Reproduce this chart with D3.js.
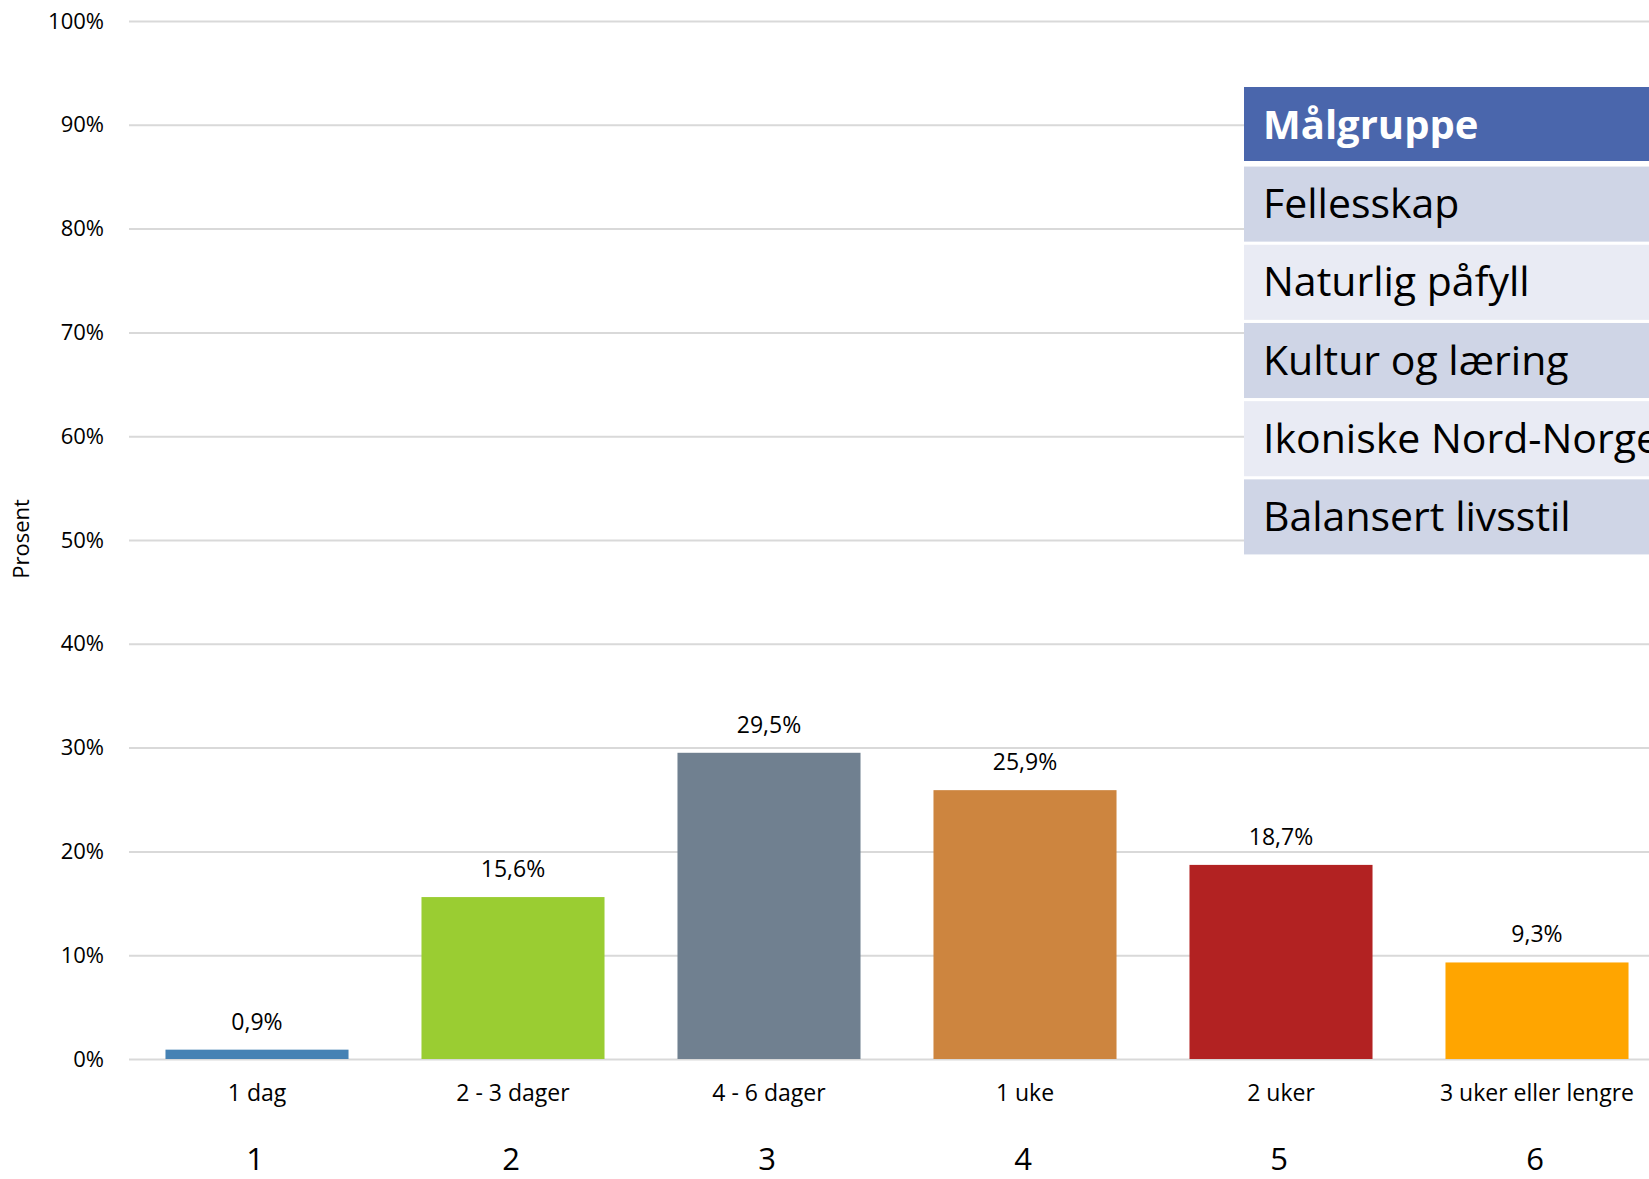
<!DOCTYPE html>
<html>
<head>
<meta charset="utf-8">
<script src="https://cdn.jsdelivr.net/npm/d3@7"></script>
<style>
  body { margin: 0; background: #fff; overflow: hidden; }
  text { font-family: "Open Sans", "DejaVu Sans", sans-serif; }
</style>
</head>
<body>
<script>
// data
let categories = ["1 dag", "2 - 3 dager", "4 - 6 dager", "1 uke", "2 uker", "3 uker eller lengre"];
let values = [0.9, 15.6, 29.5, 25.9, 18.7, 9.3];
let barColors = ["#4682b4", "#9acd32", "#708090", "#cd853f", "#b22222", "#ffa500"];
let groupNumbers = ["1", "2", "3", "4", "5", "6"];
let yTicks = [0, 10, 20, 30, 40, 50, 60, 70, 80, 90, 100];
let tableHeader = "Målgruppe";
let tableRows = ["Fellesskap", "Naturlig påfyll", "Kultur og læring", "Ikoniske Nord-Norge", "Balansert livsstil"];

let width = 1649, height = 1179;

let svg = d3.select("body").append("svg")
    .attr("width", width)
    .attr("height", height);

let x = d3.scaleBand()
    .domain(categories)
    .range([129, 1665])
    .paddingInner(0.285)
    .paddingOuter(0.1425);

let y = d3.scaleLinear()
    .domain([0, 100])
    .range([1059, 21]);

// gridlines + tick labels
let yAxis = d3.axisLeft(y)
    .tickValues(yTicks)
    .tickFormat(d => d + "%")
    .tickSize(-(width - 129))
    .tickPadding(25);

let gy = svg.append("g")
    .attr("transform", "translate(129,0)")
    .call(yAxis);
gy.select(".domain").remove();
gy.selectAll(".tick line").attr("stroke", "#d9d9d9").attr("stroke-width", 2);
gy.selectAll(".tick text")
    .attr("fill", "#000")
    .style("font-size", "22px");

// y title
svg.append("text")
    .attr("transform", "translate(29,539) rotate(-90)")
    .attr("text-anchor", "middle")
    .style("font-size", "22px")
    .text("Prosent");

// bars
svg.append("g").selectAll("rect")
    .data(values)
    .enter().append("rect")
    .attr("x", (d, i) => x(categories[i]))
    .attr("y", d => y(d))
    .attr("width", x.bandwidth())
    .attr("height", d => y(0) - y(d))
    .attr("fill", (d, i) => barColors[i]);

// value labels
svg.append("g").selectAll("text")
    .data(values)
    .enter().append("text")
    .attr("x", (d, i) => x(categories[i]) + x.bandwidth() / 2)
    .attr("y", d => y(d) - 20)
    .attr("text-anchor", "middle")
    .style("font-size", "23px")
    .text(d => d3.format(".1f")(d).replace(".", ",") + "%");

// category labels
svg.append("g").selectAll("text")
    .data(categories)
    .enter().append("text")
    .attr("x", d => x(d) + x.bandwidth() / 2)
    .attr("y", 1101)
    .attr("text-anchor", "middle")
    .style("font-size", "23px")
    .text(d => d);

// big group numbers under the axis
svg.append("g").selectAll("text")
    .data(groupNumbers)
    .enter().append("text")
    .attr("x", (d, i) => x(categories[i]) + x.bandwidth() / 2 - 2)
    .attr("y", 1170)
    .attr("text-anchor", "middle")
    .style("font-size", "31px")
    .text(d => d);

// target group table (cut off at the right edge)
let tbl = svg.append("g").attr("transform", "translate(1244,0)");
tbl.append("rect")
    .attr("x", 0).attr("y", 87)
    .attr("width", 500).attr("height", 74)
    .attr("fill", "#4a66ac");
tbl.append("text")
    .attr("x", 19).attr("y", 139)
    .attr("fill", "#fff")
    .style("font-size", "40px")
    .style("font-weight", "bold")
    .text(tableHeader);

let rowY = d3.scaleBand()
    .domain(tableRows)
    .range([165, 556])
    .paddingInner(0.04)
    .paddingOuter(0.02);

let rows = tbl.selectAll("g.row")
    .data(tableRows)
    .enter().append("g")
    .attr("class", "row");
rows.append("rect")
    .attr("x", 0)
    .attr("y", d => rowY(d))
    .attr("width", 500)
    .attr("height", rowY.bandwidth())
    .attr("fill", (d, i) => i % 2 === 0 ? "#cfd5e6" : "#e9ebf4");
rows.append("text")
    .attr("x", 19)
    .attr("y", d => rowY(d) + rowY.bandwidth() / 2 + 14)
    .style("font-size", "41px")
    .text(d => d);
</script>
</body>
</html>
